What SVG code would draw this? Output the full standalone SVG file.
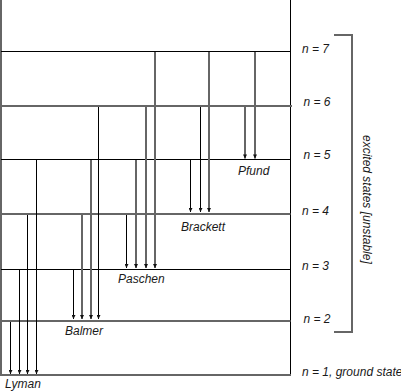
<svg xmlns="http://www.w3.org/2000/svg" width="401" height="391" viewBox="0 0 401 391">
<style>
.k{stroke:#000;stroke-width:1;fill:none}
.g{stroke:#666;stroke-width:2;fill:none}
.ak{stroke:#000;stroke-width:1;fill:none;marker-end:url(#ah)}
.ag{stroke:#666;stroke-width:2;fill:none;marker-end:url(#ah)}
text{font-family:"Liberation Sans",Arial,sans-serif;font-style:italic;font-size:12px;fill:#1a1a1a}
</style>
<defs>
<marker id="ah" viewBox="0 0 6 6" refX="6" refY="3" markerWidth="4.5" markerHeight="4" markerUnits="userSpaceOnUse" orient="auto">
<path d="M0,0 L6,3 L0,6 z" fill="#111"/>
</marker>
</defs>
<rect width="401" height="391" fill="#fff"/>
<g id="frame">
<line class="g" x1="1" y1="0" x2="1" y2="376"/>
<line class="k" x1="290.5" y1="0" x2="290.5" y2="376"/>
</g>
<g id="level-n7"><line class="k" x1="1" y1="51.5" x2="290.5" y2="51.5"/><text x="302" y="53">n = 7</text></g>
<g id="level-n6"><line class="g" x1="1" y1="106" x2="292" y2="106"/><text x="303.5" y="106">n = 6</text></g>
<g id="level-n5"><line class="k" x1="1" y1="159.5" x2="290.5" y2="159.5"/><text x="303.5" y="159">n = 5</text></g>
<g id="level-n4"><line class="g" x1="1" y1="214" x2="290.5" y2="214"/><text x="302" y="215">n = 4</text></g>
<g id="level-n3"><line class="k" x1="1" y1="269.5" x2="290.5" y2="269.5"/><text x="302" y="270">n = 3</text></g>
<g id="level-n2"><line class="g" x1="1" y1="321" x2="290.5" y2="321"/><text x="303.5" y="323">n = 2</text></g>
<g id="level-n1"><line class="g" x1="0" y1="375" x2="291" y2="375"/><text x="302" y="375.5">n = 1, ground state</text></g>
<g id="connectors">
<!-- Lyman -->
<line class="ak" x1="10.5" y1="322" x2="10.5" y2="374"/>
<line class="ak" x1="19.5" y1="270" x2="19.5" y2="374"/>
<line class="ak" x1="27.5" y1="215" x2="27.5" y2="374"/>
<line class="ak" x1="36.5" y1="160" x2="36.5" y2="374"/>
<!-- Balmer -->
<line class="ak" x1="73.5" y1="270" x2="73.5" y2="319"/>
<line class="ag" x1="82" y1="215" x2="82" y2="319"/>
<line class="ag" x1="91" y1="160" x2="91" y2="319"/>
<line class="ak" x1="98.5" y1="107" x2="98.5" y2="319"/>
<!-- Paschen -->
<line class="ak" x1="126.5" y1="215" x2="126.5" y2="268"/>
<line class="ag" x1="136" y1="160" x2="136" y2="268"/>
<line class="ag" x1="146" y1="107" x2="146" y2="268"/>
<line class="ag" x1="155" y1="52" x2="155" y2="268"/>
<!-- Brackett -->
<line class="ak" x1="190.5" y1="160" x2="190.5" y2="212"/>
<line class="ak" x1="200.5" y1="107" x2="200.5" y2="212"/>
<line class="ag" x1="209" y1="52" x2="209" y2="212"/>
<!-- Pfund -->
<line class="ag" x1="245" y1="107" x2="245" y2="158.5"/>
<line class="ag" x1="255" y1="52" x2="255" y2="158.5"/>
</g>
<g id="series-labels">
<text x="238" y="174.5">Pfund</text>
<text x="181" y="230.5">Brackett</text>
<text x="118" y="282.5">Paschen</text>
<text x="65" y="335">Balmer</text>
<text x="5" y="387.5">Lyman</text>
</g>
<g id="excited-bracket">
<path class="g" d="M334,35 H352 V332 H334"/>
<text transform="translate(363,135) rotate(90)">excited states [unstable]</text>
</g>
</svg>
